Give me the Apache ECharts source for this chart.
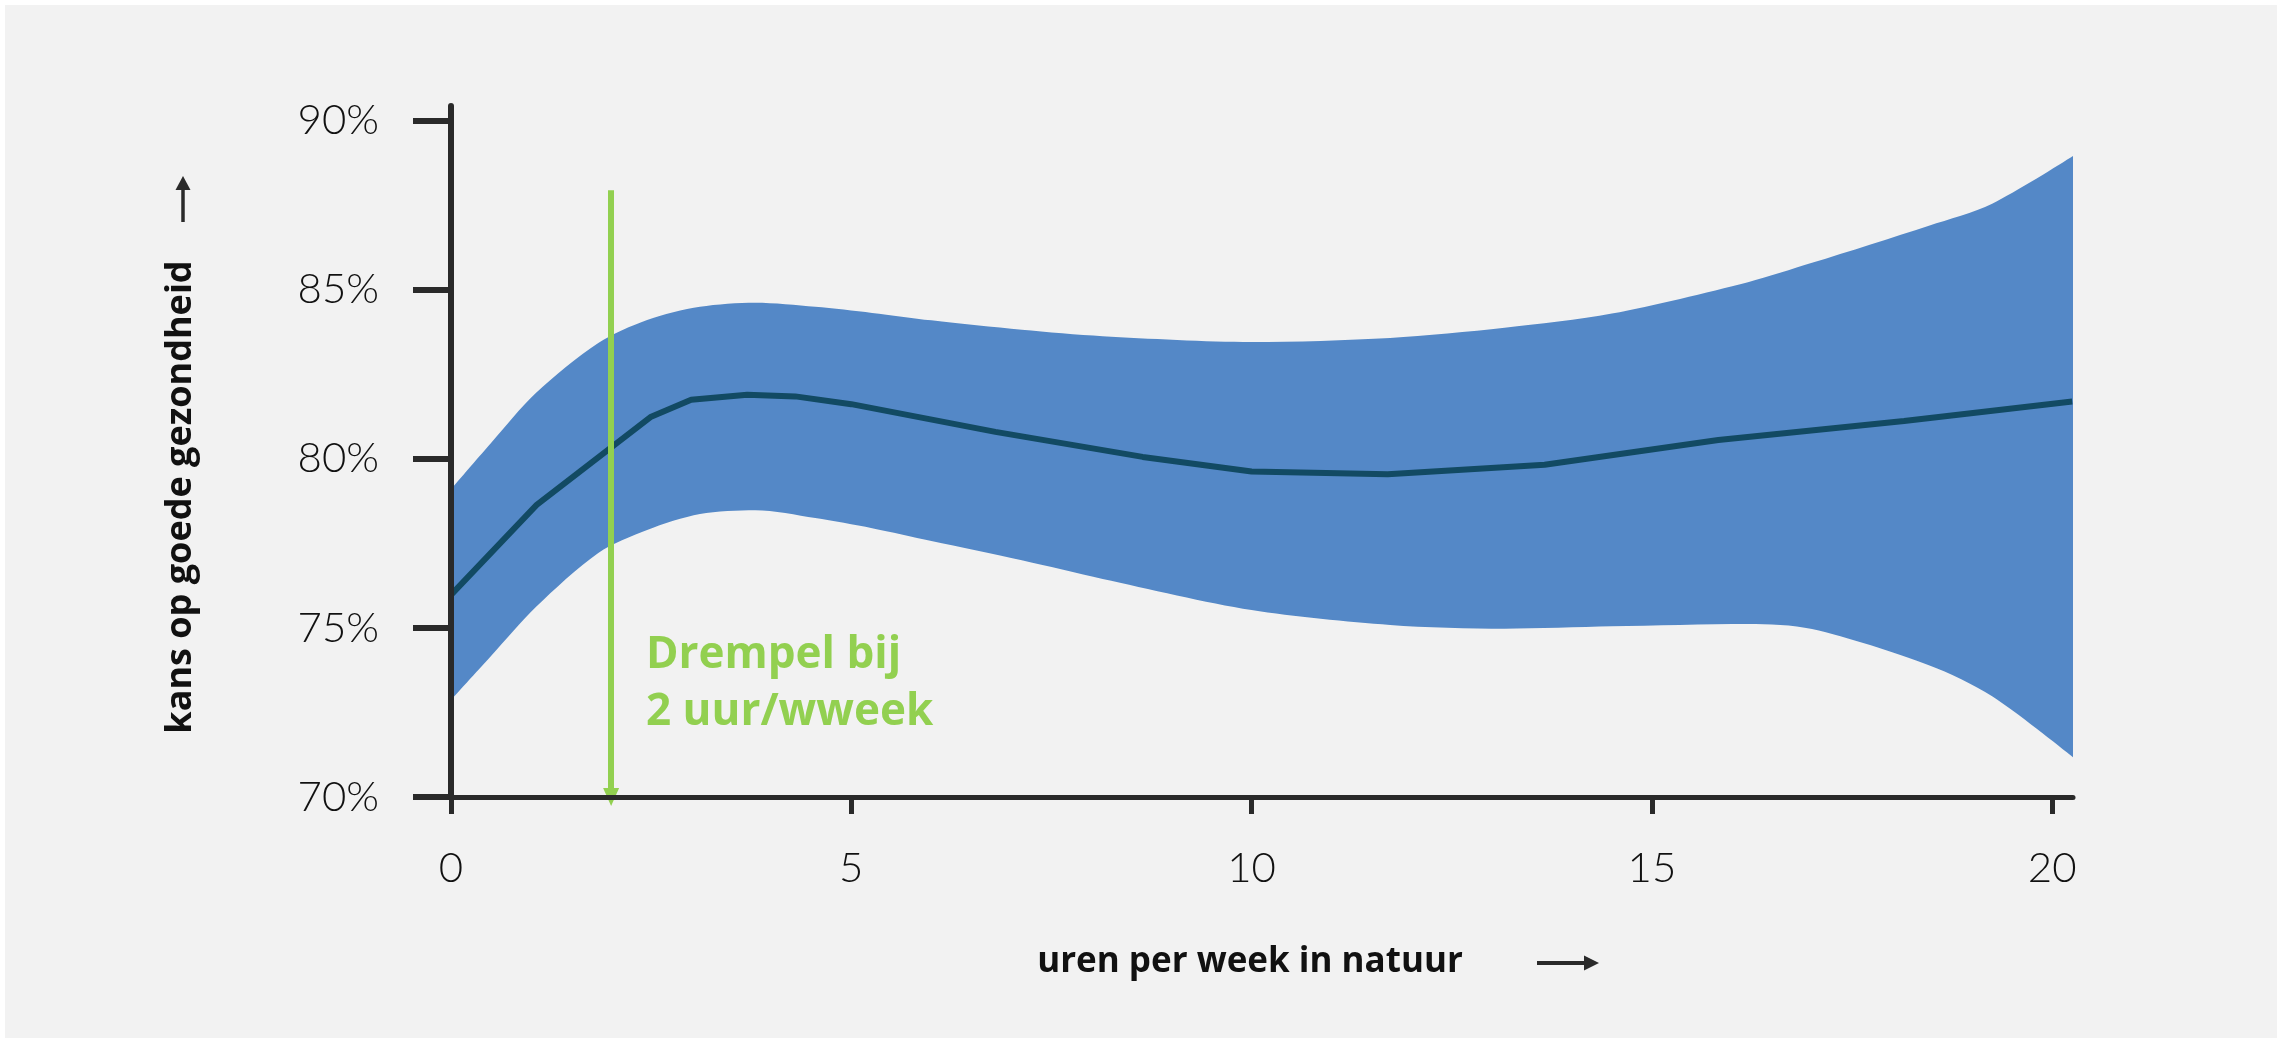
<!DOCTYPE html>
<html>
<head>
<meta charset="utf-8">
<title>Kans op goede gezondheid</title>
<script src="https://cdn.jsdelivr.net/npm/echarts@6/dist/echarts.min.js"></script>
<style>
  html, body { margin: 0; padding: 0; background: #ffffff; }
  #chart { width: 2282px; height: 1043px; }
</style>
</head>
<body>
<div id="chart"></div>
<script>
// x values (hours per week) shared by upper and lower band edges
const bandX = [0, 0.5, 1.06, 1.84, 2.45, 3.11, 3.8, 4.55, 5.26, 6, 7.13, 8.14, 10, 11.73, 13.16, 14.5, 16.2, 17.0, 18.46, 19.25, 20.3];
const bandUpper = [79.1, 80.47, 81.95, 83.43, 84.11, 84.5, 84.62, 84.5, 84.32, 84.1, 83.82, 83.63, 83.46, 83.58, 83.88, 84.3, 85.23, 85.8, 86.9, 87.55, 89.02];
const bandLower = [72.87, 74.17, 75.62, 77.22, 77.9, 78.37, 78.48, 78.25, 77.95, 77.57, 77.0, 76.45, 75.53, 75.09, 74.98, 75.05, 75.12, 74.97, 73.9, 72.98, 71.1];

// estimated probability line
const lineX = [0, 1.07, 2.5, 3.0, 3.7, 4.3, 5.0, 6.8, 8.64, 10.0, 11.7, 13.66, 15.83, 18.15, 20.25];
const lineY = [75.98, 78.64, 81.25, 81.75, 81.9, 81.85, 81.62, 80.8, 80.06, 79.63, 79.55, 79.83, 80.56, 81.12, 81.7];

const xTicks = [0, 5, 10, 15, 20];
const yTicks = [70, 75, 80, 85, 90];

// threshold arrow (2 hours/week)
const thresholdX = 2;
const thresholdTop = 87.95;

const zip = (xs, ys) => xs.map((x, i) => [x, ys[i]]);

const bg = '#f2f2f2';
const axisColor = '#2a2a2a';
const green = '#92d050';

const chart = echarts.init(document.getElementById('chart'));

chart.setOption({
  animation: false,
  backgroundColor: '#ffffff',
  grid: { left: 451, right: 209, top: 106, bottom: 246 },
  xAxis: {
    type: 'value',
    min: 0,
    max: 20.26,
    z: 10,
    splitLine: { show: false },
    axisLine: { lineStyle: { color: axisColor, width: 5 } },
    axisTick: { customValues: xTicks, length: 17, lineStyle: { color: axisColor, width: 5 } },
    axisLabel: {
      customValues: xTicks,
      margin: 50,
      fontSize: 42,
      fontFamily: 'Lato',
      fontWeight: 300,
      color: '#111111'
    }
  },
  yAxis: {
    type: 'value',
    min: 70,
    max: 90.44,
    z: 10,
    splitLine: { show: false },
    axisLine: { show: true, lineStyle: { color: axisColor, width: 6 } },
    axisTick: { show: true, customValues: yTicks, length: 38, lineStyle: { color: axisColor, width: 6 } },
    axisLabel: {
      customValues: yTicks,
      margin: 72,
      fontSize: 42,
      fontFamily: 'Lato',
      fontWeight: 300,
      color: '#111111',
      formatter: '{value}%'
    }
  },
  graphic: [
    { type: 'rect', z: -10, shape: { x: 5, y: 5, width: 2272, height: 1033 }, style: { fill: bg } },
    {
      type: 'text', x: 181, y: 497, rotation: Math.PI / 2,
      style: {
        text: 'kans op goede gezondheid', fill: '#111111',
        font: 'bold 36px "Open Sans"', align: 'center', verticalAlign: 'middle'
      }
    },
    { type: 'line', shape: { x1: 183, y1: 222, x2: 183, y2: 188 }, style: { stroke: axisColor, lineWidth: 3.5 } },
    { type: 'polygon', shape: { points: [[175.5, 190], [190.5, 190], [183, 176]] }, style: { fill: axisColor } },
    {
      type: 'text', x: 1250, y: 962,
      style: {
        text: 'uren per week in natuur', fill: '#111111',
        font: 'bold 35px "Open Sans"', align: 'center', verticalAlign: 'middle'
      }
    },
    { type: 'line', shape: { x1: 1537, y1: 963, x2: 1587, y2: 963 }, style: { stroke: axisColor, lineWidth: 4 } },
    { type: 'polygon', shape: { points: [[1584, 955.5], [1584, 970.5], [1599, 963]] }, style: { fill: axisColor } },
    {
      type: 'text', x: 646, y: 627, z: 20,
      style: {
        text: 'Drempel bij\n2 uur/wweek', fill: green,
        font: 'bold 44px "Open Sans"', lineHeight: 57, align: 'left', verticalAlign: 'top'
      }
    }
  ],
  series: [
    {
      name: 'bovengrens',
      type: 'line',
      z: 2,
      data: zip(bandX, bandUpper),
      smooth: 0.3,
      symbol: 'none',
      lineStyle: { width: 0, opacity: 0 },
      areaStyle: { color: '#5488c7', opacity: 1, origin: 'start' }
    },
    {
      name: 'ondergrens',
      type: 'line',
      z: 3,
      data: zip(bandX, bandLower),
      smooth: 0.3,
      symbol: 'none',
      lineStyle: { width: 0, opacity: 0 },
      areaStyle: { color: bg, opacity: 1, origin: 'start' }
    },
    {
      name: 'kans',
      type: 'line',
      z: 4,
      data: zip(lineX, lineY),
      symbol: 'none',
      lineStyle: { color: '#124a63', width: 6 }
    },
    {
      name: 'drempel',
      type: 'line',
      z: 5,
      data: [],
      markLine: {
        silent: true,
        symbol: ['none', 'triangle'],
        symbolSize: [16, 18],
        symbolOffset: [-9, 0],
        label: { show: false },
        lineStyle: { color: green, width: 6, type: 'solid' },
        data: [[{ coord: [thresholdX, thresholdTop] }, { coord: [thresholdX, 70] }]]
      }
    }
  ]
});
</script>
</body>
</html>
